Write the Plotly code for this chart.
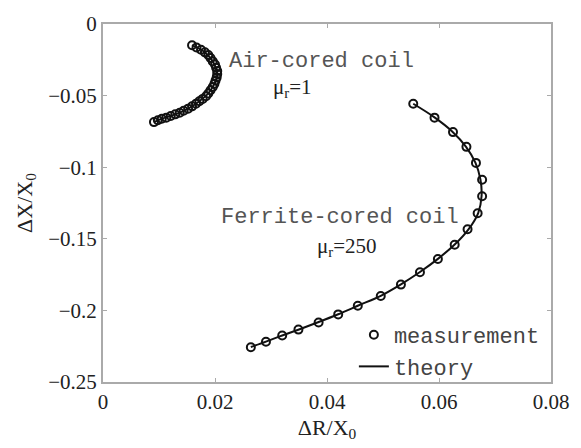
import plotly.graph_objects as go

# Ferrite-cored coil (mu_r = 250)
ferrite_meas_x = [0.0554, 0.0592, 0.0625, 0.0649, 0.0666, 0.0677, 0.0677, 0.0669, 0.0651, 0.0628, 0.0598,
                  0.0566, 0.0532, 0.0496, 0.0455, 0.0420, 0.0385, 0.0349, 0.0320, 0.0291, 0.0264]
ferrite_meas_y = [-0.0557, -0.0654, -0.0755, -0.0858, -0.0970, -0.1088, -0.1203, -0.1321, -0.1433, -0.1541, -0.1641,
                  -0.1733, -0.1820, -0.1899, -0.1968, -0.2028, -0.2084, -0.2134, -0.2175, -0.2219, -0.2257]
ferrite_theory_x = [0.0554, 0.0592, 0.0624, 0.0648, 0.0665, 0.0674, 0.0676, 0.0670, 0.0653, 0.0628, 0.0598,
                    0.0566, 0.0532, 0.0496, 0.0456, 0.0420, 0.0384, 0.0350, 0.0320, 0.0291, 0.0264]
ferrite_theory_y = [-0.0557, -0.0652, -0.0752, -0.0856, -0.0968, -0.1086, -0.1203, -0.1320, -0.1432, -0.1540, -0.1640,
                    -0.1732, -0.1818, -0.1898, -0.1966, -0.2027, -0.2083, -0.2133, -0.2175, -0.2218, -0.2256]

# Air-cored coil (mu_r = 1)
air_meas_x = [0.0159, 0.0167, 0.0175, 0.0182, 0.0188, 0.0192, 0.0196, 0.0200, 0.0202, 0.0204, 0.0204,
              0.0203, 0.0201, 0.0199, 0.0196, 0.0192, 0.0188, 0.0184, 0.0178, 0.0172, 0.0166, 0.0159,
              0.0152, 0.0144, 0.0137, 0.0129, 0.0121, 0.0113, 0.0105, 0.0098, 0.0091]
air_meas_y = [-0.0148, -0.0164, -0.0180, -0.0198, -0.0216, -0.0238, -0.0261, -0.0283, -0.0305, -0.0328, -0.0350,
              -0.0373, -0.0395, -0.0418, -0.0440, -0.0463, -0.0485, -0.0505, -0.0523, -0.0539, -0.0557, -0.0575,
              -0.0591, -0.0606, -0.0620, -0.0631, -0.0642, -0.0654, -0.0662, -0.0672, -0.0685]
air_theory_x = [0.0159, 0.0182, 0.0196, 0.0203, 0.0204, 0.0199, 0.0188, 0.0172, 0.0152, 0.0129, 0.0105, 0.0091]
air_theory_y = [-0.0148, -0.0198, -0.0261, -0.0328, -0.0373, -0.0418, -0.0485, -0.0539, -0.0591, -0.0631, -0.0662, -0.0685]

x_tickvals = [0, 0.02, 0.04, 0.06, 0.08]
x_ticktext = ["0", "0.02", "0.04", "0.06", "0.08"]
y_tickvals = [0, -0.05, -0.1, -0.15, -0.2, -0.25]
y_ticktext = ["0", "\u22120.05", "\u22120.1", "\u22120.15", "\u22120.2", "\u22120.25"]

serif = "Liberation Serif, Times New Roman, serif"
mono = "Liberation Mono, Courier New, monospace"

fig = go.Figure()
marker_style = dict(symbol="circle-open", size=8, color="#111", line=dict(width=2, color="#111"))

fig.add_trace(go.Scatter(x=air_theory_x, y=air_theory_y, mode="lines", line=dict(color="#111", width=2, shape="spline"),
                         showlegend=False, legendgroup="t"))
fig.add_trace(go.Scatter(x=ferrite_theory_x, y=ferrite_theory_y, mode="lines", line=dict(color="#111", width=2, shape="spline"),
                         name="theory", showlegend=True, legendgroup="t", legendrank=2))
fig.add_trace(go.Scatter(x=air_meas_x, y=air_meas_y, mode="markers", marker=marker_style,
                         showlegend=False, legendgroup="m"))
fig.add_trace(go.Scatter(x=ferrite_meas_x, y=ferrite_meas_y, mode="markers", marker=marker_style,
                         name="measurement", showlegend=True, legendgroup="m", legendrank=1))

axis_common = dict(showline=True, linecolor="#aaaaaa", linewidth=2, mirror="ticks", ticks="inside",
                   ticklen=4, tickcolor="#aaaaaa", tickwidth=1, showgrid=False, zeroline=False,
                   tickfont=dict(family=serif, size=21, color="#222"))

fig.update_layout(
    width=581, height=448,
    margin=dict(l=103, r=24, t=14, b=63),
    paper_bgcolor="white", plot_bgcolor="white",
    xaxis=dict(range=[0, 0.08], tickvals=x_tickvals, ticktext=x_ticktext,
               title=dict(text="\u0394R/X<sub>0</sub>", font=dict(family=serif, size=22, color="#222"), standoff=6),
               **axis_common),
    yaxis=dict(range=[-0.25, 0], tickvals=y_tickvals, ticktext=y_ticktext,
               title=dict(text="\u0394X/X<sub>0</sub>", font=dict(family=serif, size=22, color="#222"), standoff=10),
               **axis_common),
    legend=dict(x=0.56, y=0.19, xanchor="left", yanchor="top", bgcolor="rgba(0,0,0,0)",
                font=dict(family=mono, size=22, color="#444"), tracegroupgap=0, itemwidth=30),
    annotations=[
        dict(x=0.0221, y=-0.0263, xref="x", yref="y", text="Air-cored coil", showarrow=False,
             xanchor="left", yanchor="middle", font=dict(family=mono, size=22, color="#555")),
        dict(x=0.0339, y=-0.0445, xref="x", yref="y", text="\u03bc<sub>r</sub>=1", showarrow=False,
             xanchor="center", yanchor="middle", font=dict(family=serif, size=21, color="#222")),
        dict(x=0.0207, y=-0.1354, xref="x", yref="y", text="Ferrite-cored coil", showarrow=False,
             xanchor="left", yanchor="middle", font=dict(family=mono, size=22, color="#555")),
        dict(x=0.0436, y=-0.1560, xref="x", yref="y", text="\u03bc<sub>r</sub>=250", showarrow=False,
             xanchor="center", yanchor="middle", font=dict(family=serif, size=21, color="#222")),
    ],
)

fig.write_html("out.html")
